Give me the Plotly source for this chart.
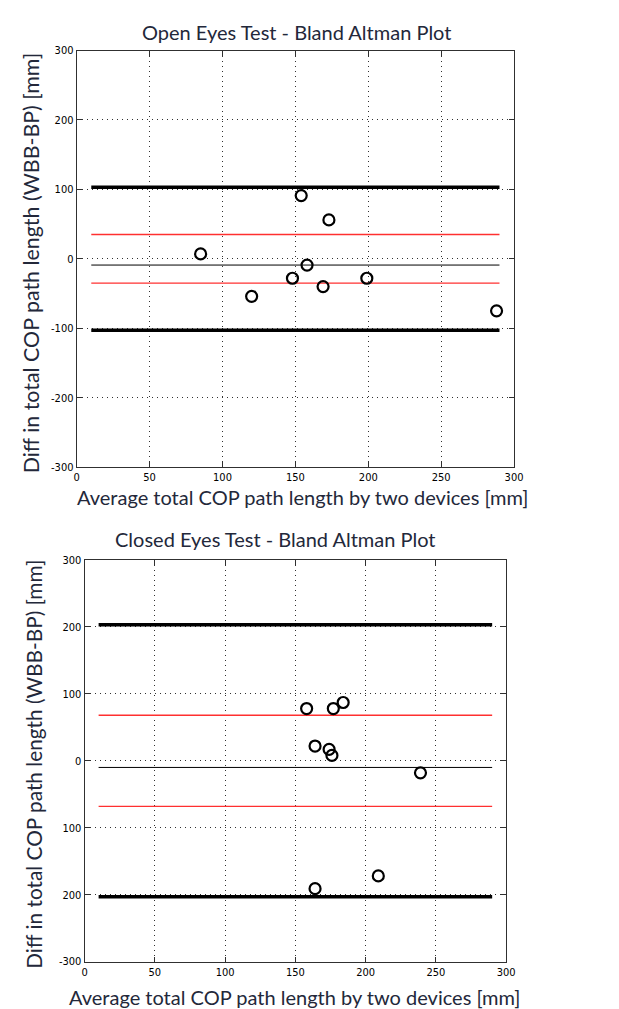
import plotly.graph_objects as go

# ---------------- data ----------------
line_x = [10, 290]

open_avg = [85, 120, 148, 154, 158, 169, 173, 199, 288]
open_diff = [7, -54, -28, 91, -9, -40, 56, -28, -75]
open_mean = -9
open_sd_lines = [35, -35]
open_loa = [103, -103]

closed_avg = [158, 164, 174, 176, 177, 184, 239, 164, 209]
closed_diff = [78, 22, 17, 8, 78, 87, -18, -191, -172]
closed_mean = -10
closed_sd_lines = [68, -68]
closed_loa = [203, -203]

x_ticks = [0, 50, 100, 150, 200, 250, 300]
y_ticks = [-300, -200, -100, 0, 100, 200, 300]
open_ytext = ["-300", "-200", "-100", "0", "100", "200", "300"]
closed_ytext = ["-300", "200", "100", "0", "100", "200", "300"]

titles = ["Open Eyes Test - Bland Altman Plot", "Closed Eyes Test - Bland Altman Plot"]
x_title = "Average total COP path length by two devices [mm]"
y_title = "Diff in total COP path length (WBB-BP) [mm]"

# ---------------- figure ----------------
W, H = 619, 1009
fig = go.Figure()

TEXT_FONT = "Lato, Open Sans, sans-serif"
TICK_FONT = "Liberation Sans Narrow, DejaVu Sans Condensed, Liberation Sans, sans-serif"
TEXT_COLOR = "#23283a"


def add_panel(idx, avg, diff, mean, sdl, loa):
    xa = "x" if idx == 1 else "x2"
    ya = "y" if idx == 1 else "y2"
    for v in loa:
        fig.add_trace(go.Scatter(x=line_x, y=[v, v], mode="lines",
                                 line=dict(color="black", width=3.5),
                                 xaxis=xa, yaxis=ya, showlegend=False, hoverinfo="skip"))
    for v in sdl:
        fig.add_trace(go.Scatter(x=line_x, y=[v, v], mode="lines",
                                 line=dict(color="#ff3030", width=1.3),
                                 xaxis=xa, yaxis=ya, showlegend=False, hoverinfo="skip"))
    fig.add_trace(go.Scatter(x=line_x, y=[mean, mean], mode="lines",
                             line=dict(color="black", width=1),
                             xaxis=xa, yaxis=ya, showlegend=False, hoverinfo="skip"))
    fig.add_trace(go.Scatter(x=avg, y=diff, mode="markers",
                             marker=dict(symbol="circle-open", size=11, color="black",
                                         line=dict(width=2.2, color="black")),
                             xaxis=xa, yaxis=ya, showlegend=False))


add_panel(1, open_avg, open_diff, open_mean, open_sd_lines, open_loa)
add_panel(2, closed_avg, closed_diff, closed_mean, closed_sd_lines, closed_loa)


def px_x(p):
    return p / W


def px_y(p):
    return 1 - p / H


common_x = dict(range=[0, 300], tickmode="array", tickvals=x_ticks,
                showgrid=True, gridcolor="#303030", griddash="1px,4px", gridwidth=1,
                showline=True, linecolor="#303030", linewidth=1, mirror="ticks",
                ticks="inside", ticklen=5, tickcolor="#303030",
                zeroline=False, tickfont=dict(family=TICK_FONT, size=11, color="black"),
                fixedrange=True)
common_y = dict(range=[-300, 300], tickmode="array", tickvals=y_ticks,
                showgrid=True, gridcolor="#303030", griddash="1px,4px", gridwidth=1,
                showline=True, linecolor="#303030", linewidth=1, mirror="ticks",
                ticks="inside", ticklen=5, tickcolor="#303030",
                zeroline=False, tickfont=dict(family=TICK_FONT, size=11, color="black"),
                fixedrange=True)

fig.update_layout(
    width=W, height=H, autosize=False,
    margin=dict(l=0, r=0, t=0, b=0),
    paper_bgcolor="white", plot_bgcolor="white",
    xaxis=dict(common_x, domain=[px_x(67), px_x(513)], anchor="y"),
    yaxis=dict(common_y, domain=[px_y(459), px_y(37)], anchor="x", ticktext=open_ytext),
    xaxis2=dict(common_x, domain=[px_x(75), px_x(505)], anchor="y2"),
    yaxis2=dict(common_y, domain=[px_y(960), px_y(553)], anchor="x2", ticktext=closed_ytext),
)

ann = []
font_t = dict(family=TEXT_FONT, size=20, color=TEXT_COLOR)
font_y1 = dict(family=TEXT_FONT, size=21.4, color=TEXT_COLOR)
font_y2 = dict(family=TEXT_FONT, size=20.8, color=TEXT_COLOR)
ann.append(dict(text=titles[0], x=px_x(291), y=px_y(18), xref="paper", yref="paper",
                showarrow=False, font=font_t, xanchor="center", yanchor="middle"))
ann.append(dict(text=titles[1], x=px_x(270), y=px_y(532), xref="paper", yref="paper",
                showarrow=False, font=font_t, xanchor="center", yanchor="middle"))
ann.append(dict(text=x_title, x=px_x(297), y=px_y(489), xref="paper", yref="paper",
                showarrow=False, font=font_t, xanchor="center", yanchor="middle"))
ann.append(dict(text=x_title, x=px_x(289), y=px_y(996), xref="paper", yref="paper",
                showarrow=False, font=font_t, xanchor="center", yanchor="middle"))
ann.append(dict(text=y_title, x=px_x(20), y=px_y(252), xref="paper", yref="paper",
                showarrow=False, font=font_y1, textangle=-90, xanchor="center", yanchor="middle"))
ann.append(dict(text=y_title, x=px_x(23), y=px_y(760), xref="paper", yref="paper",
                showarrow=False, font=font_y2, textangle=-90, xanchor="center", yanchor="middle"))
fig.update_layout(annotations=ann)

fig.write_html("out.html")
